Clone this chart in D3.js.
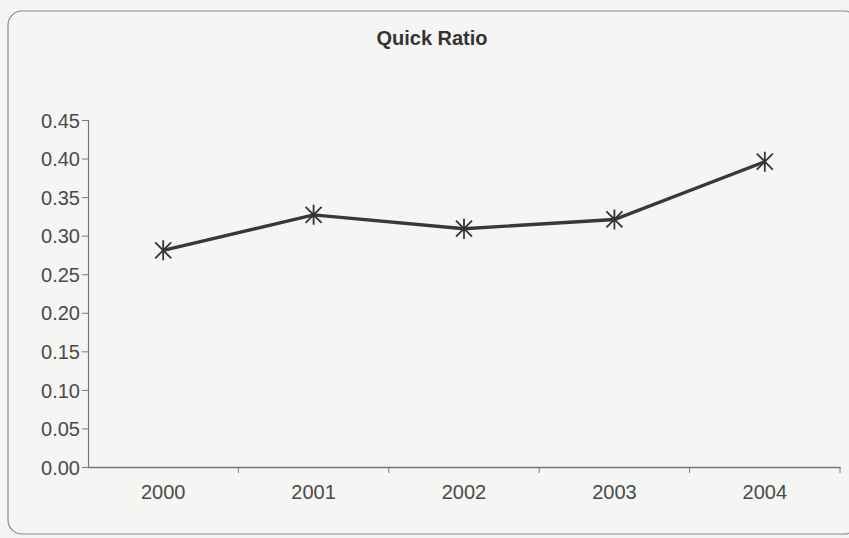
<!DOCTYPE html>
<html>
<head>
<meta charset="utf-8">
<script src="https://cdn.jsdelivr.net/npm/d3@7/dist/d3.min.js"></script>
<style>
  body { margin: 0; background: #f4f4f2; }
  svg { display: block; font-family: "Liberation Sans", Arial, sans-serif; }
  .yAxis text, .xAxis text { fill: #4a4a4a; font-size: 20px; }
</style>
</head>
<body>
<div id="chart"></div>
<script>
var years = ["2000", "2001", "2002", "2003", "2004"];
var quickRatio = [0.281, 0.327, 0.309, 0.321, 0.396];
var yTicks = [0, 0.05, 0.10, 0.15, 0.20, 0.25, 0.30, 0.35, 0.40, 0.45];

var W = 849, H = 538;
var m = { top: 120, right: 9, bottom: 71, left: 88 };
var width = W - m.left - m.right,
    height = H - m.top - m.bottom;

var data = years.map(function (y, i) { return { year: y, value: quickRatio[i] }; });

var svg = d3.select("#chart").append("svg")
    .attr("width", W)
    .attr("height", H);

// chart area frame
svg.append("rect")
    .attr("x", 8).attr("y", 11)
    .attr("width", 850).attr("height", 523)
    .attr("rx", 14)
    .attr("fill", "#f5f5f4")
    .attr("stroke", "#8a8a8a")
    .attr("stroke-width", 1.2);

svg.append("text")
    .attr("x", 432).attr("y", 45)
    .attr("text-anchor", "middle")
    .attr("font-weight", "bold")
    .attr("font-size", 20)
    .attr("fill", "#333")
    .text("Quick Ratio");

var g = svg.append("g")
    .attr("transform", "translate(" + m.left + "," + m.top + ")");

var x = d3.scaleBand().domain(years).range([0, width]);
var y = d3.scaleLinear().domain([0, 0.45]).range([height, 0]);

var yAxis = d3.axisLeft(y).tickValues(yTicks).tickSize(6).tickFormat(d3.format(".2f"));
g.append("g").classed("yAxis", true).call(function (a) {
    a.call(yAxis);
    a.select(".domain").attr("stroke", "#777").attr("stroke-width", 1.2);
    a.selectAll(".tick line").attr("stroke", "#777");
    a.selectAll(".tick text").attr("x", -8).attr("dy", "0.36em");
});

var xAxis = d3.axisBottom(x).tickSize(0);
g.append("g").classed("xAxis", true)
    .attr("transform", "translate(0," + height + ")")
    .call(function (a) {
        a.call(xAxis);
        a.select(".domain").attr("stroke", "#777").attr("stroke-width", 1.5);
        a.selectAll(".tick text").attr("y", 18).attr("dy", "0.71em");
    });

// tick marks at category boundaries
g.selectAll(".bound")
    .data(years)
    .enter().append("line")
    .attr("x1", function (d) { return x(d) + x.bandwidth(); })
    .attr("x2", function (d) { return x(d) + x.bandwidth(); })
    .attr("y1", height).attr("y2", height + 6)
    .attr("stroke", "#777");

var cx = function (d) { return x(d.year) + x.bandwidth() / 2; };

g.append("path")
    .datum(data)
    .attr("fill", "none")
    .attr("stroke", "#383838")
    .attr("stroke-width", 3.4)
    .attr("d", d3.line().x(cx).y(function (d) { return y(d.value); }));

// asterisk markers
var s = 8;
var star = g.selectAll(".dot")
    .data(data)
    .enter().append("g")
    .attr("transform", function (d) { return "translate(" + cx(d) + "," + y(d.value) + ")"; });
star.append("path")
    .attr("d", "M" + (-s) + "," + (-s) + "L" + s + "," + s +
               "M" + (-s) + "," + s + "L" + s + "," + (-s) +
               "M0," + (-s - 2) + "L0," + (s + 2))
    .attr("stroke", "#333")
    .attr("stroke-width", 1.8);
</script>
</body>
</html>
